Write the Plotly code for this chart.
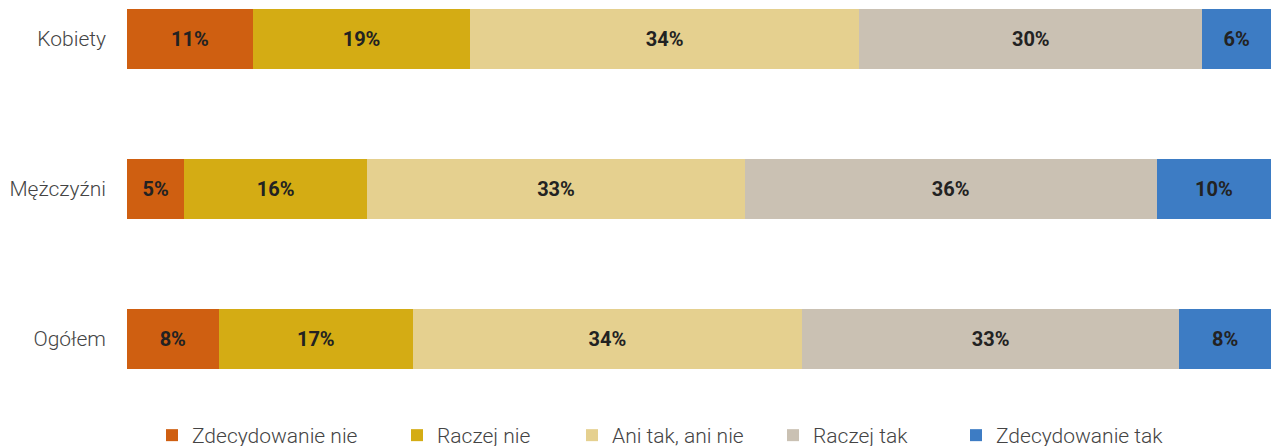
import plotly.graph_objects as go

# Survey answers by group, in percent
groups = ["Kobiety", "Mężczyźni", "Ogółem"]
answers = ["Zdecydowanie nie", "Raczej nie", "Ani tak, ani nie", "Raczej tak", "Zdecydowanie tak"]
zdecydowanie_nie = [11, 5, 8]
raczej_nie = [19, 16, 17]
ani_tak_ani_nie = [34, 33, 34]
raczej_tak = [30, 36, 33]
zdecydowanie_tak = [6, 10, 8]

series = [zdecydowanie_nie, raczej_nie, ani_tak_ani_nie, raczej_tak, zdecydowanie_tak]
colors = ["#CF5F11", "#D4AC14", "#E5D08F", "#CAC1B3", "#3D7CC4"]
legend_left_px = [152, 397, 572, 773, 956]

W, H = 1271, 446
FONT = "Roboto"
plot_h = 380

fig = go.Figure()
for i, (name, vals, col) in enumerate(zip(answers, series, colors)):
    legend_id = "legend" if i == 0 else f"legend{i + 1}"
    fig.add_trace(go.Bar(
        name=name,
        y=groups,
        x=vals,
        orientation="h",
        marker=dict(color=col, line=dict(width=0)),
        text=[f"{v}%" for v in vals],
        textposition="inside",
        insidetextanchor="middle",
        textangle=0,
        insidetextfont=dict(family=FONT, size=20, color="#222222", weight=700),
        constraintext="none",
        legend=legend_id,
        hoverinfo="skip",
    ))

# one single-entry legend per answer, so each entry can sit at its own x
layout_legends = {}
for i, px in enumerate(legend_left_px):
    key = "legend" if i == 0 else f"legend{i + 1}"
    layout_legends[key] = dict(
        xref="container", yref="paper",
        x=px / W, xanchor="left",
        y=-(456 - plot_h) / plot_h, yanchor="bottom",
        orientation="h",
        font=dict(family=FONT, size=21, color="#444444", weight=300),
        bgcolor="rgba(0,0,0,0)",
        borderwidth=0,
        itemclick=False, itemdoubleclick=False,
    )

fig.update_layout(
    width=W, height=H,
    margin=dict(l=127, r=0, t=0, b=H - plot_h, pad=0, autoexpand=False),
    paper_bgcolor="white",
    plot_bgcolor="white",
    barmode="stack",
    bargap=0.6,
    showlegend=True,
    font=dict(family=FONT),
    xaxis=dict(range=[0, 100], visible=False, fixedrange=True),
    yaxis=dict(
        categoryorder="array",
        categoryarray=groups[::-1],
        range=[-41 / 150, 2 + 39 / 150],
        showgrid=False, zeroline=False, showline=False,
        ticks="",
        ticklabelstandoff=20,
        tickfont=dict(family=FONT, size=21, color="#444444", weight=300),
        fixedrange=True,
    ),
    **layout_legends,
)

fig.write_html("out.html", config={"displayModeBar": False})
